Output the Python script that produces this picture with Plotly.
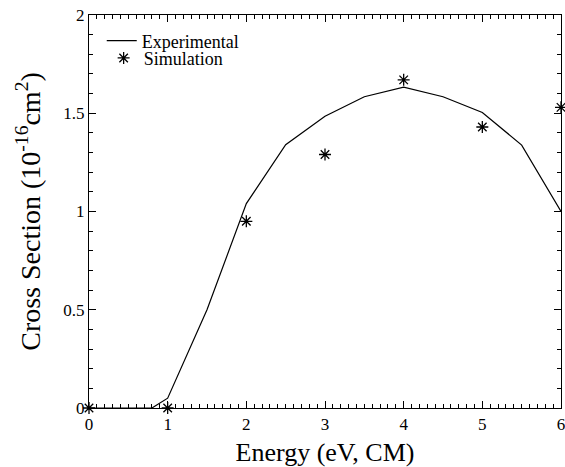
import plotly.graph_objects as go

# Experimental curve
exp_energy = [0, 0.8, 1.0, 1.5, 2.0, 2.5, 3.0, 3.5, 4.0, 4.5, 5.0, 5.5, 6.0]
exp_sigma = [0, 0, 0.05, 0.50, 1.04, 1.34, 1.485, 1.584, 1.633, 1.584, 1.504, 1.338, 1.0]

# Simulation points
sim_energy = [0, 1, 2, 3, 4, 5, 6]
sim_sigma = [0, 0, 0.95, 1.29, 1.67, 1.43, 1.53]

FONT = "Liberation Serif"

fig = go.Figure()
fig.add_trace(go.Scatter(
    x=exp_energy, y=exp_sigma, mode="lines", name="Experimental",
    line=dict(color="black", width=1.2), legend="legend", showlegend=True,
))
fig.add_trace(go.Scatter(
    x=sim_energy, y=sim_sigma, mode="markers", name="Simulation",
    marker=dict(symbol="asterisk-open", size=10, color="black",
                line=dict(color="black", width=1.3)),
    cliponaxis=False, legend="legend2", showlegend=True,
))

axis_common = dict(
    showline=True, linecolor="black", linewidth=1.2, mirror="allticks",
    ticks="inside", ticklen=7, tickwidth=1, tickcolor="black",
    showgrid=False, zeroline=False, automargin=False,
    tickfont=dict(family=FONT, size=17, color="black"),
)

fig.update_xaxes(
    range=[0, 6], dtick=1, tick0=0, ticklabeloverflow="allow",
    minor=dict(dtick=0.1, ticks="inside", ticklen=4, tickcolor="black", tickwidth=1),
    title=dict(text="Energy (eV, CM)", font=dict(family=FONT, size=26, color="black"), standoff=10),
    **axis_common,
)
fig.update_yaxes(
    range=[0, 2], dtick=0.5, tick0=0,
    minor=dict(dtick=0.1, ticks="inside", ticklen=4, tickcolor="black", tickwidth=1),
    title=dict(text="Cross Section (10<sup>-16</sup>cm<sup>2</sup>)",
               font=dict(family=FONT, size=28, color="black"), standoff=14),
    **axis_common,
)

leg_common = dict(xanchor="left", yanchor="top", bgcolor="rgba(0,0,0,0)",
                  font=dict(family=FONT, size=18, color="black"), itemwidth=30)

fig.update_layout(
    width=565, height=467,
    margin=dict(l=89, r=4, t=15, b=59),
    plot_bgcolor="white", paper_bgcolor="white",
    font=dict(family=FONT, color="black"),
    showlegend=True,
    legend=dict(x=0.027, y=0.981, **leg_common),
    legend2=dict(x=0.031, y=0.937, **leg_common),
)

fig.write_html("out.html", config={"displayModeBar": False},
               post_script="document.body.style.margin='0';")
